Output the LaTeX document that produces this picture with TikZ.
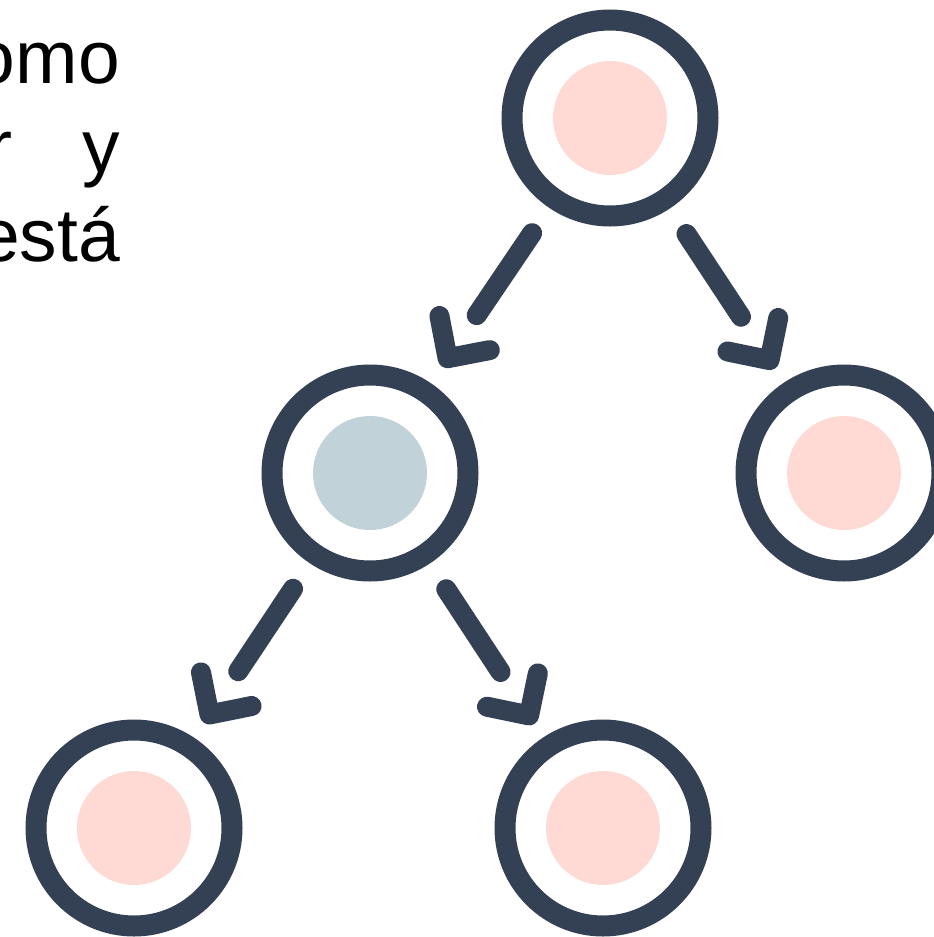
\documentclass[tikz,border=0pt]{standalone}
\usepackage{fontspec}
\setmainfont{Liberation Sans}
\usetikzlibrary{calc}
\definecolor{slate}{HTML}{344154}
\definecolor{blush}{HTML}{FFDAD5}
\definecolor{mist}{HTML}{C1D3D8}
\tikzset{
  ring/.style={circle, draw=slate, line width=21pt, minimum size=196pt, inner sep=0pt},
  shaft/.style={draw=slate, line width=20pt, line cap=round},
  chevron/.style={draw=slate, line width=20pt, line cap=round, line join=round},
  txt/.style={anchor=base east, inner sep=0pt, font=\fontsize{75}{89}\selectfont}
}
\newcommand{\treearrow}[2]{%
  \draw[shaft] ($(#1)!139pt!(#2)$) -- ($(#1)!238pt!(#2)$);
  \coordinate (tip) at ($(#1)!290pt!(#2)$);
  \draw[chevron] ($(tip)!43pt!45:(#1)$) -- (tip) -- ($(tip)!43pt!-45:(#1)$);
}
\begin{document}
\begin{tikzpicture}[x=1pt, y=-1pt]
    \clip (0,0) rectangle (934,937);
    \node[txt] (line1) at (120,83) {omo};
    \node[txt] (line2) at (120,172) {r\hspace{70pt}y};
    \node[txt] (line3) at (120,261) {está};
    \node[ring] (top) at (610,118) {};
    \node[ring] (mid) at (370,473) {};
    \node[ring] (right) at (844,473) {};
    \node[ring] (left) at (134,828) {};
    \node[ring] (center) at (603,828) {};
    \fill[blush] (top) circle (57pt);
    \fill[mist] (mid) circle (57pt);
    \fill[blush] (right) circle (57pt);
    \fill[blush] (left) circle (57pt);
    \fill[blush] (center) circle (57pt);
    \treearrow{top}{mid}
    \treearrow{top}{right}
    \treearrow{mid}{left}
    \treearrow{mid}{center}
\end{tikzpicture}
\end{document}
